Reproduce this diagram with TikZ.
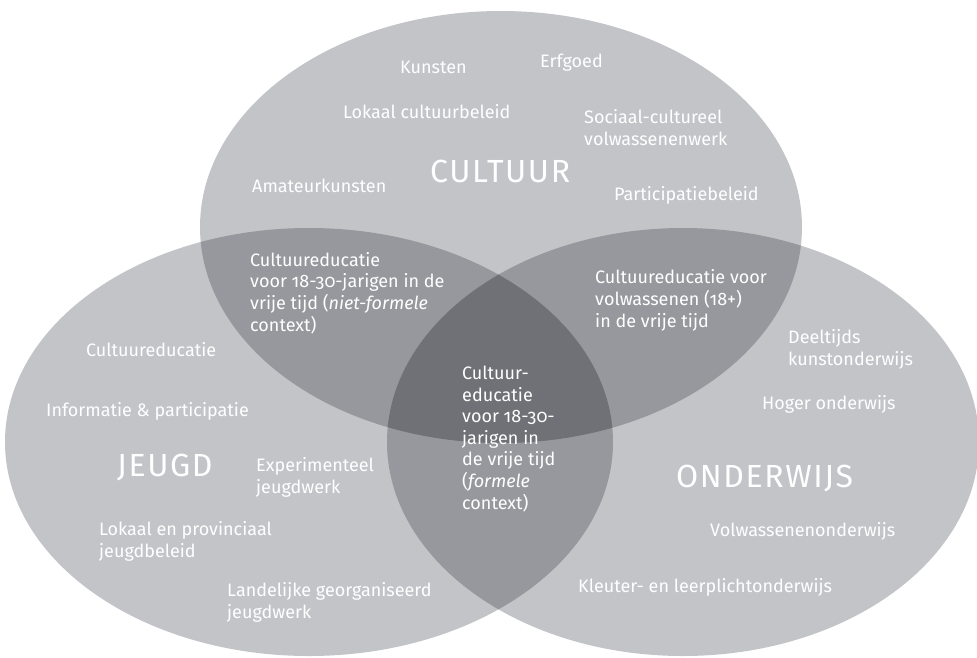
\documentclass[tikz,border=0pt]{standalone}
\usepackage{fontspec}
\setmainfont{Fira Sans}[Numbers=OldStyle]
\newfontfamily\ttlfont{Fira Sans}[LetterSpace=5]
\definecolor{lightg}{RGB}{195,196,200}
\definecolor{midg}{RGB}{150,152,157}
\definecolor{darkg}{RGB}{111,113,118}
\tikzset{
  ellC/.style={x radius=301pt,y radius=216pt},
  ellJ/.style={x radius=304pt,y radius=214pt},
  ellO/.style={x radius=296pt,y radius=214pt},
  lbl/.style={text=white,inner sep=0pt,anchor=base west,align=left,
    font=\fontsize{18}{21.6}\selectfont},
  ttl/.style={text=white,inner sep=0pt,anchor=base west,
    font=\ttlfont\fontsize{32}{36}\selectfont}
}
\begin{document}
\begin{tikzpicture}[x=1pt,y=-1pt]
\useasboundingbox (0,0) rectangle (977,657);
\coordinate (C) at (501,227);
\coordinate (J) at (309,442);
\coordinate (O) at (683,442);
\fill[lightg] (C) ellipse[ellC];
\fill[lightg] (J) ellipse[ellJ];
\fill[lightg] (O) ellipse[ellO];
\begin{scope}
  \clip (C) ellipse[ellC];
  \fill[midg] (J) ellipse[ellJ];
  \fill[midg] (O) ellipse[ellO];
\end{scope}
\begin{scope}
  \clip (J) ellipse[ellJ];
  \fill[midg] (O) ellipse[ellO];
\end{scope}
\begin{scope}
  \clip (C) ellipse[ellC];
  \clip (J) ellipse[ellJ];
  \fill[darkg] (O) ellipse[ellO];
\end{scope}
% Cultuur
\node[lbl] (kunsten) at (400,73) {Kunsten};
\node[lbl] (erfgoed) at (540,67) {Erfgoed};
\node[lbl] (lokcult) at (343,118) {Lokaal cultuurbeleid};
\node[lbl] (sociaal) at (584,145) {Sociaal-cultureel\\volwassenenwerk};
\node[ttl] (cultuur) at (430,182) {CULTUUR};
\node[lbl] (amateur) at (252,192) {Amateurkunsten};
\node[lbl] (partic) at (614,200) {Participatiebeleid};
% overlaps
\node[lbl] (cj) at (250,331) {Cultuureducatie\\voor 18-30-jarigen in de\\vrije tijd (\textit{niet-formele}\\context)};
\node[lbl] (co) at (595,327) {Cultuureducatie voor\\volwassenen (18+)\\in de vrije tijd};
\node[lbl] (cjo) at (462,509) {Cultuur-\\educatie\\voor 18-30-\\jarigen in\\de vrije tijd\\(\textit{formele}\\context)};
% Jeugd
\node[lbl] (jcult) at (86,356) {Cultuureducatie};
\node[lbl] (info) at (46,416) {Informatie \& participatie};
\node[ttl] (jeugd) at (117,476) {JEUGD};
\node[lbl] (exper) at (256,493) {Experimenteel\\jeugdwerk};
\node[lbl] (lokprov) at (99,557) {Lokaal en provinciaal\\jeugdbeleid};
\node[lbl] (landel) at (227,618) {Landelijke georganiseerd\\jeugdwerk};
% Onderwijs
\node[lbl] (deelt) at (788,365) {Deeltijds\\kunstonderwijs};
\node[lbl] (hoger) at (762,409) {Hoger onderwijs};
\node[ttl] (onderw) at (676,487) {ONDERWIJS};
\node[lbl] (volw) at (710,536) {Volwassenenonderwijs};
\node[lbl] (kleut) at (578,592) {Kleuter- en leerplichtonderwijs};
\end{tikzpicture}
\end{document}
